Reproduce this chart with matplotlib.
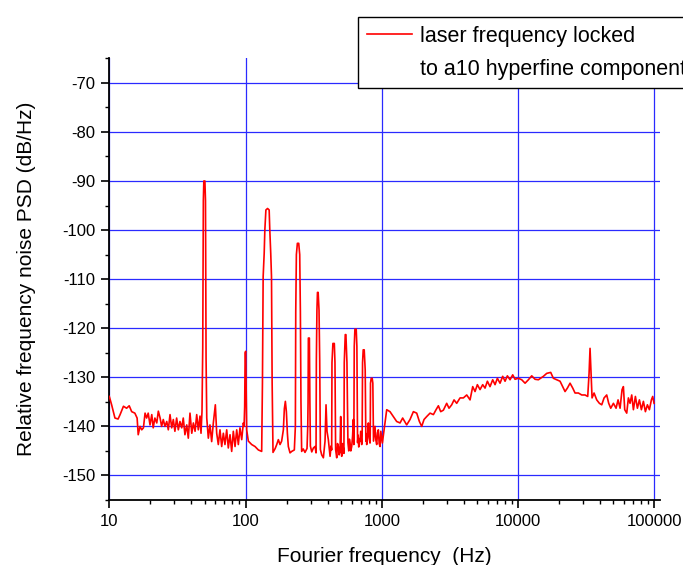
import matplotlib
matplotlib.use("Agg")
import matplotlib.pyplot as plt
from matplotlib.lines import Line2D
from matplotlib.ticker import FixedLocator, LogLocator, NullFormatter, MultipleLocator

plt.rcParams['font.family'] = ['Liberation Sans', 'DejaVu Sans']
plt.rcParams['axes.unicode_minus'] = False

# ---------------- data (Fourier frequency [Hz], PSD [dB/Hz]) ----------------
low_band = [
    (10.0, -133.9), (10.4, -135.6), (11.0, -138.3), (11.6, -138.5), (12.0, -137.6),
    (12.7, -135.9), (13.4, -136.3), (14.0, -135.8), (14.6, -137.0), (15.4, -137.3),
    (16.0, -138.3), (16.3, -141.7), (16.8, -140.0), (17.3, -140.7), (17.8, -140.3),
    (18.3, -137.3), (18.8, -138.3), (19.3, -137.3), (19.9, -139.7), (20.5, -137.6),
    (21.0, -140.3), (21.6, -138.3), (22.3, -139.3), (22.9, -136.9), (23.6, -138.3),
    (24.2, -140.0), (24.9, -138.6), (25.6, -140.0), (26.4, -139.0), (27.1, -140.7),
    (27.9, -137.6), (28.7, -140.3), (29.5, -138.6), (30.3, -141.0), (31.2, -138.3),
    (32.1, -140.7), (33.0, -139.0), (34.0, -140.3), (34.9, -138.3), (35.9, -141.7),
    (37.0, -139.7), (38.0, -142.4), (39.1, -137.3), (40.3, -141.4), (41.4, -139.3),
    (42.6, -141.0), (43.8, -137.6), (45.0, -140.7), (46.3, -137.9), (47.1, -141.4),
    (47.9, -136.9), (48.5, -124.0), (49.0, -94.0), (49.4, -90.0), (50.3, -90.0),
    (50.8, -94.0), (51.3, -126.0), (51.9, -138.3), (53.3, -142.4), (54.8, -139.7),
    (56.4, -143.1), (58.0, -139.3), (60.0, -135.6), (61.4, -141.4), (63.1, -143.7),
    (64.9, -140.7), (66.8, -144.1), (68.7, -141.4), (70.6, -143.7), (72.7, -140.7),
    (74.7, -144.4), (76.9, -141.7), (79.1, -145.1), (81.3, -141.0), (83.7, -144.1),
    (86.1, -140.7), (88.5, -143.7), (91.0, -140.3), (93.7, -142.7), (96.3, -139.3),
    (97.5, -140.0), (98.5, -136.0), (99.3, -125.0), (100.2, -124.7), (101.0, -133.2),
]

mid_band = [
    (101.9, -140.7), (104.8, -143.0), (110.9, -143.7), (117.3, -144.1), (124.1, -144.8),
    (131.3, -145.1), (133.0, -131.2), (134.6, -109.5), (137.0, -104.7), (138.5, -100.0),
    (141.0, -95.9), (145.0, -95.6), (149.0, -95.9), (150.6, -100.0), (153.0, -104.7),
    (155.0, -109.5), (156.7, -131.2), (159.0, -145.3), (165.0, -144.5), (169.3, -143.7),
    (174.0, -142.7), (179.0, -143.7), (184.0, -143.0), (189.4, -140.7), (192.6, -136.4),
    (195.9, -134.9), (199.3, -137.0), (202.7, -141.4), (206.0, -144.1), (212.0, -145.4),
    (218.0, -145.1), (228.0, -144.8), (232.0, -140.0), (233.5, -116.6), (236.0, -105.0),
    (240.0, -102.7), (245.5, -102.7), (249.7, -105.0), (252.5, -116.6), (255.0, -135.0),
    (258.0, -145.1), (265.0, -144.6), (273.0, -145.3), (282.5, -144.5), (286.0, -140.0),
    (287.5, -135.2), (289.0, -122.0), (294.0, -122.0), (296.5, -135.0), (299.0, -144.0),
    (306.0, -145.2), (314.6, -144.4), (323.6, -144.1), (329.0, -145.4), (330.8, -126.5),
    (334.0, -116.3), (337.0, -112.7), (341.0, -112.7), (346.0, -116.3), (350.0, -126.5),
    (354.0, -144.7), (362.0, -145.8), (372.4, -146.4), (383.0, -143.0), (389.5, -135.6),
    (396.0, -141.0), (405.0, -142.7), (417.0, -146.1), (424.0, -144.0), (428.5, -144.8),
    (430.7, -127.0), (437.5, -123.1), (448.0, -123.1), (453.0, -127.0), (458.0, -144.7),
    (466.6, -146.4), (473.0, -143.5), (479.8, -144.1), (486.0, -145.8), (493.5, -145.1),
    (499.0, -138.0), (503.0, -144.5), (507.6, -146.1), (515.0, -143.5), (522.0, -144.4),
    (527.0, -145.5), (530.0, -127.0), (539.0, -121.3), (545.0, -121.3), (554.6, -127.0),
    (564.0, -143.3), (572.0, -145.0), (578.0, -142.6), (584.5, -143.4), (592.0, -145.0),
    (601.0, -144.1), (610.0, -142.0), (618.0, -138.6), (623.0, -143.7), (627.5, -123.7),
    (634.5, -120.2), (648.6, -120.2), (656.0, -123.7), (663.7, -143.3), (670.0, -141.8),
    (677.0, -144.2), (685.0, -142.5), (692.0, -143.1), (700.0, -141.0), (711.7, -143.7),
    (717.0, -142.0), (722.0, -127.0), (730.0, -124.4), (742.5, -124.4), (755.0, -128.5),
    (763.6, -143.0), (769.0, -141.5), (774.6, -143.7), (785.0, -142.0), (796.5, -139.3),
    (808.0, -142.5), (819.0, -143.4), (822.0, -141.5), (826.0, -131.2), (835.6, -130.2),
    (849.5, -130.2), (859.0, -131.2), (868.7, -143.0), (880.0, -141.5), (891.0, -140.0),
    (904.0, -142.8), (917.0, -143.7), (930.0, -141.3), (943.0, -140.7), (956.0, -143.5),
    (970.0, -144.1), (983.0, -141.0), (997.7, -142.4), (1009.0, -143.4), (1030.0, -141.5),
    (1056.0, -139.3), (1086.0, -136.6),
]

high_band = [
    (1148, -137.0), (1215, -138.0), (1285, -139.0), (1360, -139.3), (1422, -138.3),
    (1522, -139.7), (1610, -138.6), (1704, -137.0), (1803, -137.3), (1886, -139.0),
    (1962, -140.0), (2040, -138.6), (2134, -138.0), (2259, -137.3), (2390, -137.6),
    (2500, -136.6), (2600, -135.8), (2704, -137.0), (2829, -136.7), (2992, -135.3),
    (3112, -136.3), (3257, -135.6), (3388, -134.6), (3544, -135.3), (3750, -134.2),
    (3967, -134.2), (4198, -133.6), (4440, -134.6), (4645, -131.9), (4831, -132.9),
    (5025, -131.5), (5257, -132.5), (5499, -131.5), (5720, -132.2), (5951, -130.8),
    (6223, -131.9), (6511, -130.5), (6773, -131.5), (7047, -130.2), (7371, -131.2),
    (7709, -129.8), (8022, -130.8), (8343, -129.7), (8728, -130.5), (9130, -129.5),
    (9497, -130.4), (10047, -130.2), (10630, -130.5), (11250, -131.2), (11900, -130.5),
    (12590, -129.7), (13320, -130.4), (14090, -130.5), (15330, -129.8), (16220, -129.2),
    (17350, -129.0), (18150, -130.2), (19200, -130.5), (20320, -130.8), (21260, -131.9),
    (22110, -132.9), (23000, -132.2), (24060, -131.2), (25180, -132.2), (26180, -133.2),
    (27700, -133.2), (29310, -133.6), (31000, -133.6), (32430, -133.9), (33180, -129.2),
    (33730, -124.1), (34300, -129.2), (34900, -134.2), (36100, -133.2), (37760, -134.6),
    (39500, -135.3), (41100, -135.6), (42760, -134.2), (44700, -133.6), (46240, -135.3),
    (47860, -136.3), (50050, -135.3), (52360, -136.3), (54150, -134.6), (56020, -136.3),
    (57940, -132.5), (59260, -131.9), (60610, -136.6), (62690, -137.3), (64480, -134.2),
    (66320, -135.3), (68220, -133.6), (70170, -136.6), (72580, -133.9), (75080, -136.3),
    (77660, -134.6), (80330, -136.6), (83090, -134.9), (85950, -137.0), (88900, -135.6),
    (91960, -136.6), (95100, -134.6), (97270, -133.9), (99500, -135.3),
]

x_ticks = [10, 100, 1000, 10000, 100000]
x_tick_labels = ["10", "100", "1000", "10000", "100000"]
y_ticks = [-150, -140, -130, -120, -110, -100, -90, -80, -70]

legend_lines = ["laser frequency locked", "to a10 hyperfine component"]

# ---------------- figure ----------------
W, H = 683, 565
fig = plt.figure(figsize=(W / 100, H / 100), dpi=100)
ax_left, ax_right, ax_top, ax_bottom = 109.3, 660.0, 58.3, 500.0
ax = fig.add_axes([ax_left / W, 1 - ax_bottom / H, (ax_right - ax_left) / W,
                   (ax_bottom - ax_top) / H])

points = low_band + mid_band + high_band
freq = [p[0] for p in points]
psd = [p[1] for p in points]

line, = ax.plot(freq, psd, color='#ff0000', lw=1.2, zorder=3)

ax.set_xscale('log')
ax.set_xlim(10, 1.1e5)
ax.set_ylim(-155, -65)

ax.xaxis.set_major_locator(FixedLocator(x_ticks))
ax.set_xticklabels(x_tick_labels)
ax.xaxis.set_minor_locator(LogLocator(base=10, subs=[2, 3, 4, 5, 6, 7, 8, 9], numticks=20))
ax.xaxis.set_minor_formatter(NullFormatter())
ax.set_yticks(y_ticks)
ax.yaxis.set_minor_locator(MultipleLocator(5))

ax.grid(which='major', color='#2a2aff', lw=0.9, zorder=1)
ax.set_axisbelow(True)

for s in ['top', 'right']:
    ax.spines[s].set_visible(False)
for s in ['left', 'bottom']:
    ax.spines[s].set_linewidth(1.3)

ax.tick_params(which='major', direction='out', length=6, width=1.2, labelsize=12, pad=4)
ax.tick_params(which='minor', direction='out', length=3, width=1.0)

ax.set_xlabel("Fourier frequency  (Hz)", fontsize=15, labelpad=13)
ax.set_ylabel("Relative frequency noise PSD (dB/Hz)", fontsize=15, labelpad=19)

blank = Line2D([], [], color='none')
leg = fig.legend([line, blank], legend_lines, loc='upper left',
                 bbox_to_anchor=(358 / W, 1 - 17 / H), fontsize=15.5,
                 frameon=True, fancybox=False, edgecolor='black', framealpha=1,
                 borderaxespad=0, handlelength=2.1, handletextpad=0.4,
                 labelspacing=0.57, borderpad=0.4)
leg.get_frame().set_linewidth(1.0)

fig.savefig("out.png", dpi=100)
